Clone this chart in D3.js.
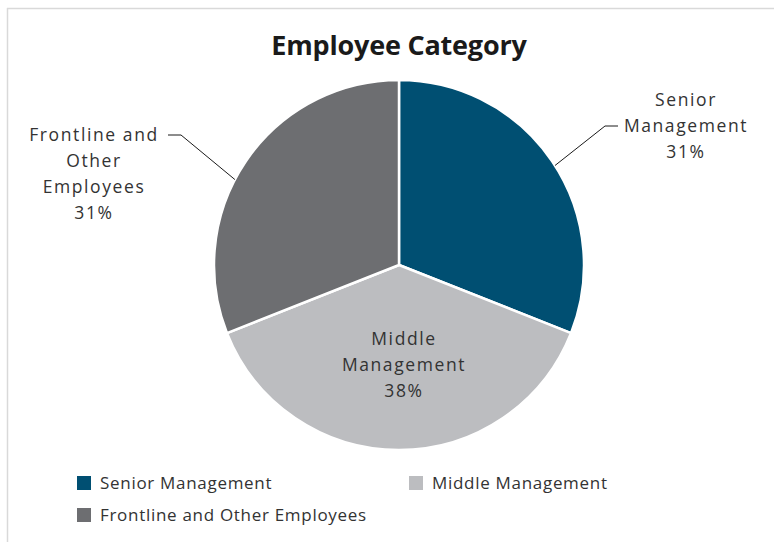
<!DOCTYPE html>
<html>
<head>
<meta charset="utf-8">
<script src="https://cdn.jsdelivr.net/npm/d3@7"></script>
<style>
  html, body { margin: 0; padding: 0; background: #fff; }
  svg { display: block; }
</style>
</head>
<body>
<svg id="chart" width="774" height="542"></svg>
<script>
// Employee mix by category (percent of total)
const categories = ["Senior Management", "Middle Management", "Frontline and Other Employees"];
const values = [31, 38, 31];
const sliceLabels = [["Senior", "Management"], ["Middle", "Management"], ["Frontline and", "Other", "Employees"]];
const colors = ["#004F72", "#BCBDC0", "#6D6E71"];
const title = "Employee Category";

const svg = d3.select("#chart");
const W = 774, H = 542;
const font = "'Open Sans', 'Liberation Sans', sans-serif";

// frame (top and left edges visible)
svg.append("line").attr("x1", 7).attr("x2", W).attr("y1", 8.5).attr("y2", 8.5)
  .attr("stroke", "#D9D9D9").attr("stroke-width", 1.5);
svg.append("line").attr("x1", 7.5).attr("x2", 7.5).attr("y1", 8).attr("y2", H)
  .attr("stroke", "#D9D9D9").attr("stroke-width", 1.5);

svg.append("text")
  .attr("x", 399).attr("y", 55)
  .attr("text-anchor", "middle")
  .attr("font-family", font).attr("font-weight", 700)
  .attr("font-size", 27).attr("fill", "#1a1a1a")
  .attr("letter-spacing", -0.2)
  .text(title);

const cx = 399, cy = 265, R = 185;
const g = svg.append("g").attr("transform", `translate(${cx},${cy})`);

const pie = d3.pie().sort(null).value(d => d);
const arcs = pie(values);
const arc = d3.arc().innerRadius(0).outerRadius(R);

g.selectAll("path.slice").data(arcs).enter().append("path")
  .attr("class", "slice")
  .attr("d", arc)
  .attr("fill", (d, i) => colors[i])
  .attr("stroke", "#fff").attr("stroke-width", 2.5).attr("stroke-linejoin", "round");

// label layout: outside with leader lines for the outer slices, inside for the middle one
const labelSpec = [
  { x: 686, y: 106, anchor: "middle", leader: [0.515, [605, 126], [618, 126]] },
  { x: 404, y: 345, anchor: "middle", leader: null },
  { x: 94, y: 141, anchor: "middle", leader: [0.44, [181, 135], [168, 135]] }
];
const lineH = 26;

arcs.forEach((a, i) => {
  const spec = labelSpec[i];
  const lines = sliceLabels[i].concat([values[i] + "%"]);
  const t = svg.append("text")
    .attr("text-anchor", spec.anchor)
    .attr("font-family", font).attr("font-size", 17.5)
    .attr("letter-spacing", 1.6)
    .attr("fill", "#333");
  lines.forEach((s, k) => {
    t.append("tspan").attr("x", spec.x).attr("y", spec.y + k * lineH).text(s);
  });
  if (spec.leader) {
    // start on the rim at a point along the slice's angular span
    const ang = a.startAngle + (a.endAngle - a.startAngle) * spec.leader[0];
    const p0 = [cx + R * Math.sin(ang), cy - R * Math.cos(ang)];
    const pts = [p0, spec.leader[1], spec.leader[2]];
    svg.append("path")
      .attr("d", d3.line()(pts))
      .attr("fill", "none").attr("stroke", "#1a1a1a").attr("stroke-width", 1);
  }
});

// legend
const legendPos = [[77, 476], [409, 476], [77, 508]];
categories.forEach((c, i) => {
  const [lx, ly] = legendPos[i];
  svg.append("rect").attr("x", lx).attr("y", ly).attr("width", 14).attr("height", 14)
    .attr("fill", colors[i]);
  svg.append("text").attr("x", lx + 23).attr("y", ly + 13)
    .attr("font-family", font).attr("font-size", 17)
    .attr("letter-spacing", 0.7)
    .attr("fill", "#333")
    .text(c);
});
</script>
</body>
</html>
